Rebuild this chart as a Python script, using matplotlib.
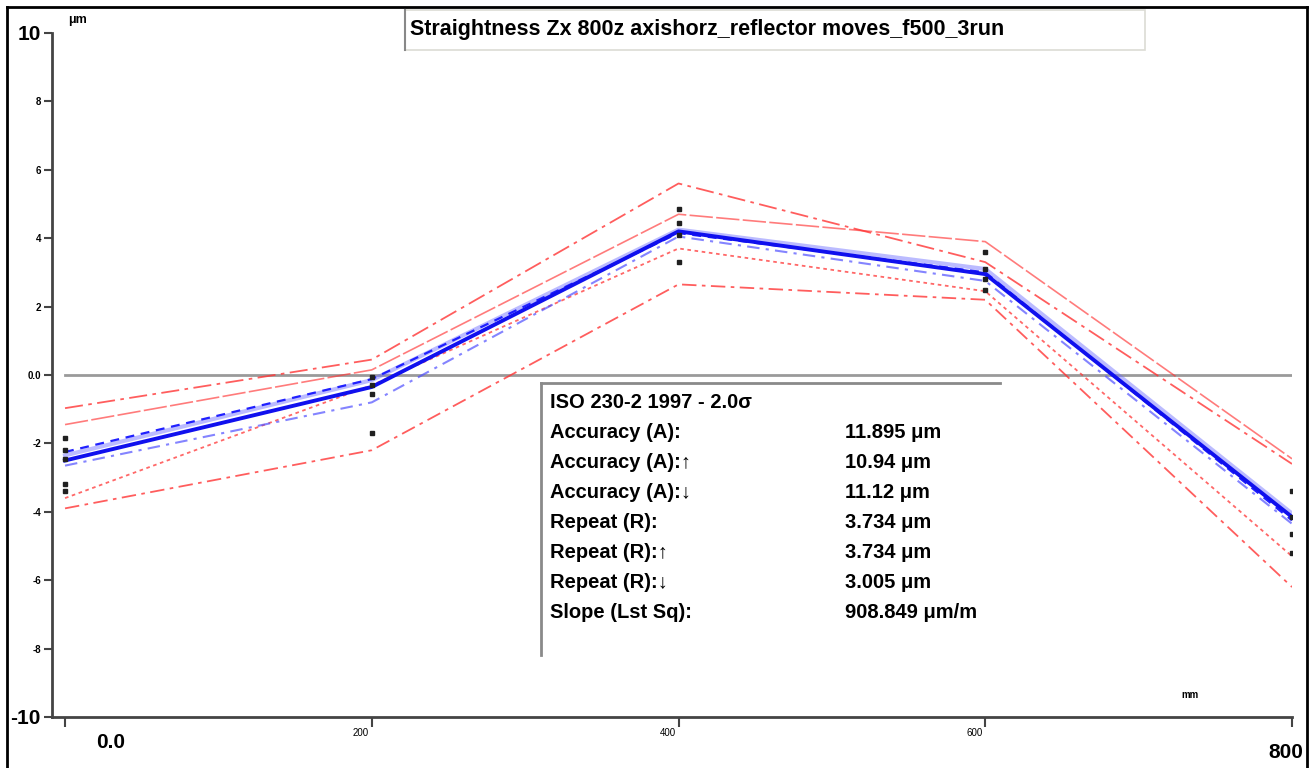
import matplotlib
matplotlib.use("Agg")
import matplotlib.pyplot as plt
from matplotlib.patches import Rectangle
from matplotlib.lines import Line2D
from matplotlib.transforms import offset_copy

plt.rcParams["font.family"] = ["Liberation Sans", "DejaVu Sans"]

# target positions along the axis (mm)
positions = [0, 200, 400, 600, 800]

# mean deviation curves (um)
mean_bidir = [-2.5, -0.35, 4.2, 2.95, -4.15]
mean_fwd = [-2.35, -0.15, 4.25, 3.1, -4.05]
mean_rev = [-2.25, -0.12, 4.15, 3.0, -4.25]
mean_rev_alt = [-2.65, -0.8, 4.05, 2.75, -4.35]

# +/- 2 sigma envelopes (um)
env_upper_a = [-0.97, 0.45, 5.6, 3.3, -2.6]
env_upper_b = [-1.45, 0.15, 4.7, 3.9, -2.45]
env_lower_a = [-3.6, -0.3, 3.7, 2.45, -5.3]
env_lower_b = [-3.9, -2.2, 2.65, 2.2, -6.2]

# individual run readings
run_pts = {
    0: [-1.85, -2.2, -2.45, -3.2, -3.4],
    200: [-0.05, -0.3, -0.55, -1.7],
    400: [4.85, 4.45, 4.1, 3.3],
    600: [3.6, 3.1, 2.8, 2.5],
    800: [-3.4, -4.15, -4.65, -5.2],
}

y_ticks = [10, 8, 6, 4, 2, 0, -2, -4, -6, -8, -10]
y_labels = ["10", "8", "6", "4", "2", "0.0", "-2", "-4", "-6", "-8", "-10"]
x_labels = ["0.0", "200", "400", "600", "800"]

title = "Straightness Zx 800z axishorz_reflector moves_f500_3run"
stats_rows = [
    ("Accuracy (A):", "11.895 μm"),
    ("Accuracy (A):\u2191", "10.94 μm"),
    ("Accuracy (A):\u2193", "11.12 μm"),
    ("Repeat (R):", "3.734 μm"),
    ("Repeat (R):\u2191", "3.734 μm"),
    ("Repeat (R):\u2193", "3.005 μm"),
    ("Slope (Lst Sq):", "908.849 μm/m"),
]

W, H = 1313, 768
fig = plt.figure(figsize=(W / 100, H / 100), dpi=100)


def fx(px):
    return px / W


def fy(py):
    return 1 - py / H


ax = fig.add_axes([fx(52), fy(717), fx(1292) - fx(52), fy(33) - fy(717)])
ax.set_xlim(-8.5, 800)
ax.set_ylim(-10, 10)

ax.plot([positions[0], positions[-1]], [0, 0], color="#9a9a9a", lw=2.0, zorder=1)

red = "#ff3535"
ax.plot(positions, env_upper_a, color=red, lw=1.3, alpha=0.8, dashes=(10, 3, 2, 3))
ax.plot(positions, env_upper_b, color=red, lw=1.2, alpha=0.65, dashes=(14, 2))
ax.plot(positions, env_lower_a, color=red, lw=1.3, alpha=0.75, dashes=(2, 2))
ax.plot(positions, env_lower_b, color=red, lw=1.3, alpha=0.8, dashes=(8, 3, 2, 3))

ax.plot(positions, mean_fwd, color="#6a6aff", lw=3.0, alpha=0.45)
ax.plot(positions, mean_rev, color="#2020ff", lw=1.6, dashes=(4, 3))
ax.plot(positions, mean_rev_alt, color="#5050ff", lw=1.5, alpha=0.7, dashes=(6, 3, 1.5, 3))
ax.plot(positions, mean_bidir, color="#1010ee", lw=2.8)

for x, ys in run_pts.items():
    ax.plot([x] * len(ys), ys, ls="none", marker="s", ms=3.5, color="#202020", zorder=5)

for side in ("top", "right"):
    ax.spines[side].set_visible(False)
for side in ("left", "bottom"):
    ax.spines[side].set_color("#444444")
    ax.spines[side].set_linewidth(2.0)

ax.set_yticks(y_ticks)
ax.set_yticklabels(y_labels)
ax.tick_params(axis="y", length=6, width=1.5, color="#444444", pad=2, labelsize=7)
for lab in ax.get_yticklabels():
    lab.set_fontweight("bold")
    if lab.get_text() in ("10", "-10"):
        lab.set_fontsize(15)

ax.set_xticks(positions)
ax.set_xticklabels([])
ax.tick_params(axis="x", length=7, width=1.5, color="#444444")

xt = ax.get_xaxis_transform()
x_label_style = [
    (46, -26, 15, "center"),
    (-3, -16, 7, "right"),
    (-3, -16, 7, "right"),
    (-3, -16, 7, "right"),
    (-6, -36, 15, "center"),
]
for x, lab, (dx, dy, size, ha) in zip(positions, x_labels, x_label_style):
    tr = offset_copy(xt, fig=fig, x=dx, y=dy, units="dots")
    ax.text(x, 0, lab, transform=tr, ha=ha, va="center", fontsize=size,
            fontweight="bold" if size > 10 else "normal")

fig.text(fx(68), fy(20), "μm", fontsize=9, fontweight="bold", ha="left", va="center")
fig.text(fx(1190), fy(695), "mm", fontsize=7, fontweight="bold", ha="center", va="center")

# outer frame
for xs, ys in (([7, 1307], [7, 7]), ([7, 7], [7, 768]), ([1307, 1307], [7, 768])):
    fig.add_artist(Line2D([fx(v) for v in xs], [fy(v) for v in ys], color="black", lw=2))

# title box
fig.add_artist(Rectangle((fx(405), fy(50)), fx(1145) - fx(405), fy(10) - fy(50),
                         facecolor="white", edgecolor="#dcdcd4", lw=1.2))
fig.add_artist(Line2D([fx(405), fx(405)], [fy(10), fy(50)], color="#888888", lw=1.5))
fig.text(fx(410), fy(30), title, fontsize=15.5, fontweight="bold", ha="left", va="center")

# statistics box
fig.add_artist(Rectangle((fx(541), fy(655)), fx(1000) - fx(541), fy(383) - fy(655),
                         facecolor="white", edgecolor="none"))
fig.add_artist(Line2D([fx(541), fx(1000)], [fy(383), fy(383)], color="#8a8a8a", lw=2))
fig.add_artist(Line2D([fx(541), fx(541)], [fy(383), fy(655)], color="#8a8a8a", lw=2))
fig.text(fx(550), fy(403), "ISO 230-2 1997 - 2.0σ", fontsize=14.5, fontweight="bold",
         ha="left", va="center")
for i, (name, val) in enumerate(stats_rows):
    yy = 433 + i * 30
    fig.text(fx(550), fy(yy), name, fontsize=14.5, fontweight="bold", ha="left", va="center")
    fig.text(fx(845), fy(yy), val, fontsize=14.5, fontweight="bold", ha="left", va="center")

fig.savefig("out.png", dpi=100)
